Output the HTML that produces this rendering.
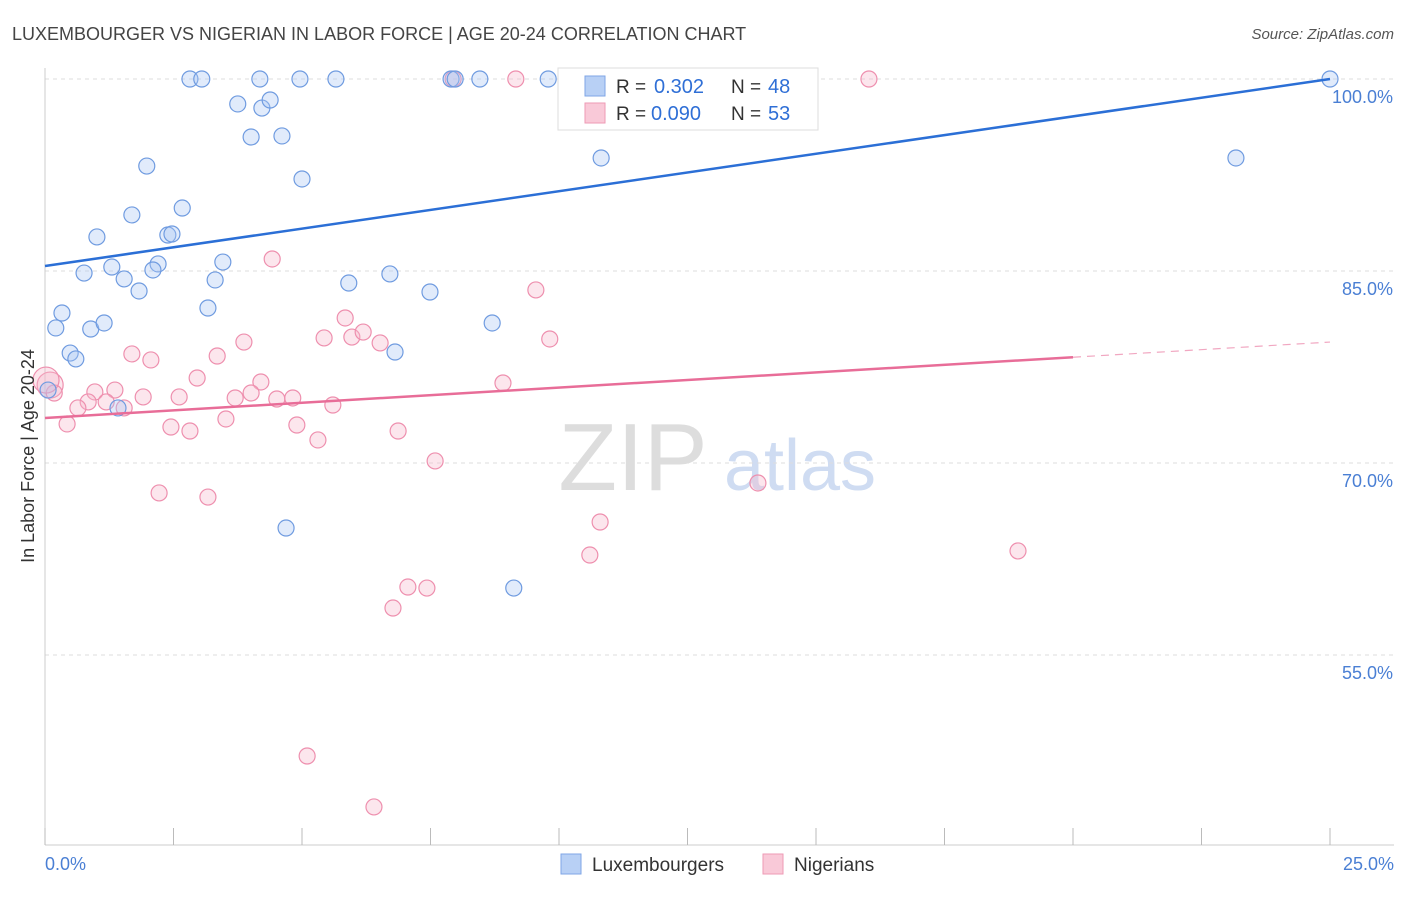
<!DOCTYPE html>
<html><head><meta charset="utf-8"><style>
body{margin:0;background:#fff;font-family:"Liberation Sans",sans-serif}
svg text{font-family:"Liberation Sans",sans-serif}
</style></head><body>
<svg id="c" width="1406" height="892" xmlns="http://www.w3.org/2000/svg">
<text x="12" y="40" font-size="18" fill="#444">LUXEMBOURGER VS NIGERIAN IN LABOR FORCE | AGE 20-24 CORRELATION CHART</text>
<text x="1394" y="39" font-size="15" fill="#555" font-style="italic" text-anchor="end">Source: ZipAtlas.com</text>
<g><text x="633" y="490" font-size="96" fill="#ddd" font-family="Liberation Serif" text-anchor="middle">ZIP</text><text x="800" y="490" font-size="72" fill="#cfdcf2" text-anchor="middle">atlas</text></g>
<g id="grid"></g><g id="axes"></g><g id="marks"></g>
<text transform="translate(34,456) rotate(-90)" font-size="18" fill="#333" text-anchor="middle">In Labor Force | Age 20-24</text>
<text x="45" y="870" font-size="18" fill="#4a7fd4">0.0%</text>
<text x="1394" y="870" font-size="18" fill="#4a7fd4" text-anchor="end">25.0%</text>
<g>
<rect x="558" y="68" width="260" height="62" fill="#fff" stroke="#ddd"/>
<rect x="585" y="76" width="20" height="20" fill="#b8d0f5" stroke="#7fa6e6"/>
<text x="616" y="93" font-size="19" fill="#333">R =</text><text x="654" y="93" font-size="20" fill="#2f6fd6">0.302</text>
<text x="731" y="93" font-size="19" fill="#333">N =</text><text x="768" y="93" font-size="20" fill="#2f6fd6">48</text>
<rect x="585" y="103" width="20" height="20" fill="#f9c9d8" stroke="#ee9ab5"/>
<text x="616" y="120" font-size="19" fill="#333">R =</text><text x="651" y="120" font-size="20" fill="#2f6fd6">0.090</text>
<text x="731" y="120" font-size="19" fill="#333">N =</text><text x="768" y="120" font-size="20" fill="#2f6fd6">53</text>
</g>
<g>
<rect x="561" y="854" width="20" height="20" fill="#b8d0f5" stroke="#7fa6e6"/>
<text x="592" y="871" font-size="19" fill="#333">Luxembourgers</text>
<rect x="763" y="854" width="20" height="20" fill="#f9c9d8" stroke="#ee9ab5"/>
<text x="794" y="871" font-size="19" fill="#333">Nigerians</text>
</g>
</svg>
<script>
const yTicks=[100,85,70,55];
const yTickLabels=["100.0%","85.0%","70.0%","55.0%"];
const blueX=[2.82,3.05,4.18,4.96,5.66,7.90,7.98,8.46,9.79,25.0,3.75,4.22,4.38,4.01,4.61,10.82,23.17,1.98,5.00,1.69,2.67,1.01,2.39,2.47,0.76,1.30,1.54,2.20,2.10,1.83,3.31,3.46,3.17,5.91,6.71,7.49,0.33,0.21,0.89,1.15,0.49,0.60,6.81,8.70,1.42,4.69,9.12,0.06];
const blueY=[100,100,100,100,100,100,100,100,100,100,98.05,97.73,98.36,95.47,95.55,93.83,93.83,93.20,92.19,89.38,89.92,87.66,87.81,87.89,84.84,85.31,84.38,85.55,85.08,83.44,84.30,85.70,82.11,84.06,84.77,83.36,81.72,80.55,80.47,80.94,78.59,78.13,78.67,80.94,74.30,64.92,60.23,75.70];
const pinkX=[7.94,9.16,16.03,4.42,9.55,5.84,5.43,5.97,6.19,6.52,9.82,3.87,1.69,2.06,3.35,2.96,4.20,8.91,0.10,0.18,0.97,1.36,1.91,2.61,3.70,4.01,4.51,4.82,0.84,1.19,1.54,0.64,5.60,3.52,0.43,2.45,2.82,4.90,5.31,6.87,7.59,2.22,3.17,13.87,10.80,10.60,18.93,7.06,7.43,6.77,5.10,6.40,0.02];
const pinkY=[100,100,100,85.94,83.52,81.33,79.77,79.84,80.23,79.38,79.69,79.45,78.52,78.05,78.36,76.64,76.33,76.25,76.09,75.47,75.55,75.70,75.16,75.16,75.08,75.47,75.0,75.08,74.77,74.77,74.30,74.30,74.53,73.44,73.05,72.81,72.50,72.97,71.80,72.50,70.16,67.66,67.34,68.44,65.39,62.81,63.13,60.31,60.23,58.67,47.11,43.13,76.48];
const blueTrend=[85.39,100];
const pinkTrend=[73.52,79.45];
const pinkSolidEnd=20;
const xTicks=[0,2.5,5,7.5,10,12.5,15,17.5,20,22.5,25];
const NS="http://www.w3.org/2000/svg";
const X=v=>45+v*1285/25, Y=v=>79+(100-v)*12.8;
function mk(p,t,a){const e=document.createElementNS(NS,t);for(const k in a)e.setAttribute(k,a[k]);p.appendChild(e);return e;}
const grid=document.getElementById('grid'),axes=document.getElementById('axes'),marks=document.getElementById('marks');
yTicks.forEach((t,i)=>{
 const l=mk(grid,'line',{x1:45,x2:1394,y1:Y(t),y2:Y(t),stroke:'#ddd','stroke-dasharray':'4,4'});
 
 
 const tx=mk(axes,'text',{x:1393,y:Y(t)+24,'font-size':18,fill:'#4a7fd4','text-anchor':'end'});tx.textContent=yTickLabels[i];
 
 
});
const ya=mk(axes,'line',{x1:45,x2:45,y1:68,y2:845,stroke:'#ccc'});


const xa=mk(axes,'line',{x1:45,x2:1394,y1:845,y2:845,stroke:'#ccc'});


xTicks.forEach(t=>{const l=mk(axes,'line',{x1:X(t),x2:X(t),y1:828,y2:845,stroke:'#bbb'});
 
 });
function dots(xs,ys,fill,stroke,name,big){xs.forEach((x,i)=>{const r=(big&&x<0.12)?13:8;
 const c=mk(marks,'circle',{cx:X(x),cy:Y(ys[i]),r:r,fill:fill,'fill-opacity':0.35,stroke:stroke,'stroke-width':1.2});
 
 });}
dots(pinkX,pinkY,'#f7b6cb','#ee8fae','nigerian-point',true);
dots(blueX,blueY,'#a9c6f3','#6f9be0','luxembourger-point',false);
const bl=mk(marks,'line',{x1:X(0),y1:Y(blueTrend[0]),x2:X(25),y2:Y(blueTrend[1]),stroke:'#2b6fd6','stroke-width':2.5});


const pv=x=>pinkTrend[0]+(pinkTrend[1]-pinkTrend[0])*x/25;
const pl=mk(marks,'line',{x1:X(0),y1:Y(pinkTrend[0]),x2:X(pinkSolidEnd),y2:Y(pv(pinkSolidEnd)),stroke:'#e86d98','stroke-width':2.5});


const pd=mk(marks,'line',{x1:X(pinkSolidEnd),y1:Y(pv(pinkSolidEnd)),x2:X(25),y2:Y(pinkTrend[1]),stroke:'#e86d98','stroke-width':1.2,'stroke-dasharray':'8,6','stroke-opacity':0.6});


</script>
</body></html>
